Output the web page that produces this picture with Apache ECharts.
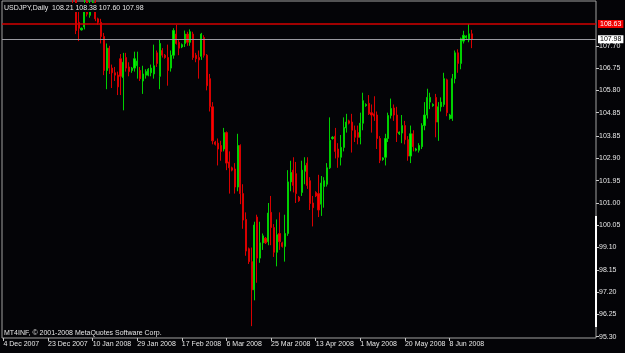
<!DOCTYPE html>
<html><head><meta charset="utf-8">
<script src="https://cdn.jsdelivr.net/npm/echarts@6/dist/echarts.min.js"></script>
<style>html,body{margin:0;padding:0;background:#040407}#c{width:625px;height:353px}</style>
</head><body><div id="c"></div>
<script>
const symbolName = 'USDJPY';
const periodName = 'Daily';
const tickLabels = ['4 Dec 2007','23 Dec 2007','10 Jan 2008','29 Jan 2008','17 Feb 2008','6 Mar 2008','25 Mar 2008','13 Apr 2008','1 May 2008','20 May 2008','8 Jun 2008'];
const priceTicks = [107.70,106.75,105.80,104.85,103.85,102.90,101.95,101.00,100.05,99.10,98.15,97.20,96.25,95.30];
const redLevel = 108.63;

const open = [
110.0,110.1,111.0,111.5,111.7,111.7,111.8,110.9,111.9,112.7,
113.2,113.3,113.1,113.5,113.2,113.3,114.0,114.0,114.2,114.2,
114.3,113.3,112.6,112.5,111.7,111.6,109.7,108.7,108.38,108.5,
109.6,109.0,109.3,109.55,108.85,108.7,108.1,106.65,107.6,106.75,
106.55,106.45,107.15,106.35,107.2,106.8,106.65,106.75,106.85,106.65,
106.2,106.45,106.45,106.55,106.5,107.4,106.4,107.5,107.3,107.2,
106.75,107.3,108.2,107.85,107.65,107.8,108.2,107.85,108.2,107.3,
107.2,107.25,108.05,107.3,106.3,105.1,103.6,103.55,103.45,103.3,
104.0,102.75,102.5,102.45,101.68,103.45,101.4,100.3,99.05,98.5,
97.3,100.4,98.65,99.3,99.5,99.35,100.6,99.95,98.9,99.7,
99.3,99.15,99.7,101.9,102.4,102.25,101.25,101.45,102.35,102.7,
101.95,101.0,101.45,101.4,100.95,101.7,101.8,102.5,103.75,103.85,
103.3,102.95,103.37,104.2,104.5,104.45,104.1,104.0,103.8,104.4,
105.15,105.25,104.85,104.8,104.75,103.75,102.85,102.95,103.75,104.73,
105.05,104.75,103.95,103.98,104.3,103.7,103.0,103.95,103.25,103.25,
103.4,104.3,104.75,105.3,105.15,105.5,104.45,105.1,105.2,106.25,
104.6,104.6,106.3,107.4,106.95,107.9,108.05,107.95,108.21
];
const high = [
110.3,111.2,111.6,111.9,111.8,112.1,112.2,112.2,112.9,113.4,
113.4,113.6,113.7,113.6,113.6,114.1,114.1,114.4,114.3,114.6,
114.5,113.5,112.7,112.6,111.8,111.8,109.9,109.3,108.48,109.7,
109.8,109.7,109.8,109.7,108.9,108.85,108.25,107.8,107.7,106.9,
106.8,106.6,107.35,107.4,107.4,107.0,106.8,107.45,107.45,106.8,
106.85,106.7,106.75,106.9,107.75,107.5,107.95,107.6,107.35,107.75,
107.5,108.45,108.6,107.95,107.8,108.35,108.3,108.4,108.3,107.4,
107.5,108.25,108.15,107.35,106.5,105.3,103.65,103.75,103.65,104.2,
104.05,103.2,102.55,102.7,103.95,103.5,101.8,100.6,99.1,99.1,
100.2,100.5,100.2,99.7,99.55,101.0,101.3,100.1,100.3,100.6,
99.35,100.5,102.4,102.8,102.95,102.75,101.3,102.8,102.95,102.95,
102.1,101.3,101.5,102.2,102.15,102.1,102.7,104.65,103.85,104.2,
103.55,103.9,104.65,104.8,104.55,104.8,104.3,104.3,104.85,105.7,
105.25,105.6,105.2,105.55,104.9,103.85,102.95,103.95,104.85,105.45,
105.2,105.1,104.05,104.75,104.5,103.85,104.3,104.1,103.35,103.55,
104.4,105.3,105.87,105.7,105.25,105.65,105.3,105.5,106.55,106.3,
104.8,106.5,107.5,107.55,108.05,108.34,108.15,108.63,108.38
];
const low = [
109.9,110.0,110.8,111.2,111.6,111.4,110.3,110.6,111.6,112.3,
113.1,112.8,112.9,112.9,112.8,113.1,113.9,113.9,114.1,114.0,
113.1,112.4,112.4,111.3,111.4,109.5,108.2,107.9,108.35,108.4,
108.95,108.9,109.2,108.75,108.6,107.8,106.45,105.85,106.5,105.9,
106.2,105.6,105.6,104.95,106.6,106.4,106.55,106.6,106.3,106.2,
105.65,106.3,106.4,106.4,106.3,106.8,105.85,107.2,107.15,106.0,
106.6,107.15,107.75,107.3,107.6,107.65,107.7,107.7,107.1,107.0,
106.3,107.1,107.2,105.8,104.9,103.5,103.45,102.6,102.8,103.2,
102.4,101.4,102.35,101.4,101.5,100.95,99.9,98.75,98.4,95.75,
96.85,97.6,98.45,99.0,99.25,99.2,99.2,98.7,98.3,99.0,
99.1,98.5,99.6,101.5,101.45,101.0,101.05,101.3,101.8,101.6,
100.7,100.0,101.25,100.4,100.45,100.8,101.7,102.45,103.7,102.9,
102.5,102.6,103.2,104.0,104.35,103.15,103.6,103.5,103.5,104.1,
105.1,104.75,104.0,104.5,103.3,102.7,102.8,102.6,103.6,104.6,
104.5,103.6,103.9,103.55,103.5,102.8,102.7,103.2,103.2,103.15,
103.3,104.1,104.6,105.0,105.1,103.8,103.65,104.9,105.1,104.7,
104.55,104.5,106.1,106.55,106.7,107.8,108.0,107.85,107.60
];
const close = [
110.1,111.0,111.5,111.7,111.7,111.8,110.9,111.9,112.7,113.2,
113.3,113.1,113.5,113.2,113.3,114.0,114.0,114.2,114.2,114.3,
113.3,112.6,112.5,111.7,111.6,109.7,108.35,108.45,108.45,109.3,
109.05,109.3,109.55,108.85,108.7,108.1,106.65,107.6,106.75,106.55,
106.45,105.95,106.4,107.0,106.75,106.6,106.75,107.15,107.05,106.3,
106.5,106.6,106.7,106.75,106.85,106.95,107.8,107.3,107.2,106.65,
107.3,108.35,107.8,107.6,107.75,108.2,107.85,108.3,107.2,107.15,
107.1,108.2,107.3,106.0,105.1,103.65,103.5,103.3,103.2,104.0,
102.7,102.5,102.4,101.68,103.45,101.4,100.27,98.95,98.5,97.3,
100.06,98.65,99.3,99.6,99.3,100.57,99.95,98.9,99.65,99.35,
99.15,99.7,101.9,102.3,101.75,101.4,101.1,102.4,102.6,101.75,
100.98,100.8,101.3,100.7,101.85,101.95,102.5,103.67,103.8,103.2,
102.95,103.37,104.22,104.45,104.4,104.1,103.8,103.8,104.4,105.36,
105.2,104.8,104.75,104.7,103.75,102.82,102.92,103.75,104.73,105.03,
104.75,104.0,104.02,104.3,103.7,103.0,103.95,103.4,103.3,103.45,
104.3,104.75,105.5,105.5,105.2,104.45,105.1,105.3,106.3,104.85,
104.75,106.3,107.4,106.95,108.0,108.15,108.12,108.21,107.98
];

// category axis: trading days (Sun-Fri) from 4 Dec 2007, including empty future space
const categories = [];
(function(){
  const d = new Date(Date.UTC(2007, 11, 4));
  while (categories.length < 213) {
    if (d.getUTCDay() !== 6) categories.push(d.toISOString().slice(0, 10));
    d.setUTCDate(d.getUTCDate() + 1);
  }
})();

const FONT = '"Liberation Sans", Arial, sans-serif';
const TXT = '#e6e6e6';
const last = close.length - 1;
const lastClose = close[last];
const data = open.map((o, i) => [o, close[i], low[i], high[i]]);
const labelStep = 16;
const showTick = (i) => i % labelStep === 0 && (i / labelStep) < tickLabels.length;

const chart = echarts.init(document.getElementById('c'), null, {renderer: 'canvas'});
chart.setOption({
  backgroundColor: '#040407',
  animation: false,
  title: {
    text: symbolName + ',' + periodName + '  ' + open[last].toFixed(2) + ' ' + high[last].toFixed(2) + ' ' + low[last].toFixed(2) + ' ' + close[last].toFixed(2),
    left: 3, top: 3, padding: [1, 1, 0, 1],
    backgroundColor: '#040407',
    textStyle: {color: TXT, fontSize: 7, fontWeight: 'normal', fontFamily: FONT, lineHeight: 8}
  },
  grid: {left: 2, right: 29, top: 1, bottom: 15, show: true, borderColor: '#a0a0a0', borderWidth: 1, backgroundColor: 'transparent'},
  xAxis: {
    type: 'category', data: categories, boundaryGap: true,
    axisLine: {show: false},
    axisTick: {show: true, alignWithLabel: true, interval: (i) => showTick(i), length: 3, lineStyle: {color: '#c8c8c8'}},
    axisLabel: {interval: (i) => showTick(i), formatter: (v, i) => tickLabels[i / labelStep] || '', align: 'left', margin: 3, color: TXT, fontSize: 7, fontFamily: FONT},
    splitLine: {show: false}
  },
  yAxis: {
    type: 'value', position: 'right', min: 95.245, max: 109.61,
    axisLine: {show: false},
    axisTick: {show: true, inside: false, length: 3, customValues: priceTicks, lineStyle: {color: '#c8c8c8'}},
    axisLabel: {customValues: priceTicks, formatter: (v) => v.toFixed(2), margin: 3, color: TXT, fontSize: 7, fontFamily: FONT},
    splitLine: {show: false}
  },
  series: [{
    type: 'candlestick', data: data, barWidth: 1.6, clip: true,
    itemStyle: {color: '#00ff00', color0: '#ff0000', borderColor: '#00d000', borderColor0: '#d80000', borderWidth: 1},
    markLine: {
      silent: true, symbol: ['none', 'none'], animation: false,
      data: [
        {yAxis: redLevel, lineStyle: {color: '#d40000', width: 1.6, type: 'solid'},
         label: {show: true, formatter: redLevel.toFixed(2), position: 'end', distance: 2, backgroundColor: '#f00000', color: '#ffffff', padding: [1, 2, 0, 2], fontSize: 7, fontFamily: FONT}},
        {yAxis: lastClose, lineStyle: {color: '#9a9aa0', width: 1, type: 'solid'},
         label: {show: true, formatter: lastClose.toFixed(2), position: 'end', distance: 2, backgroundColor: '#ffffff', color: '#000000', padding: [1, 2, 0, 2], fontSize: 7, fontFamily: FONT}}
      ]
    }
  }],
  graphic: [
    {type: 'text', left: 4, top: 330, z: 100, style: {text: 'MT4INF, \u00a9 2001-2008 MetaQuotes Software Corp.', fill: TXT, font: '7px ' + FONT}},
    {type: 'rect', z: 100, shape: {x: 595, y: 216, width: 2, height: 111}, style: {fill: '#ffffff'}}
  ]
});
</script>
</body></html>
